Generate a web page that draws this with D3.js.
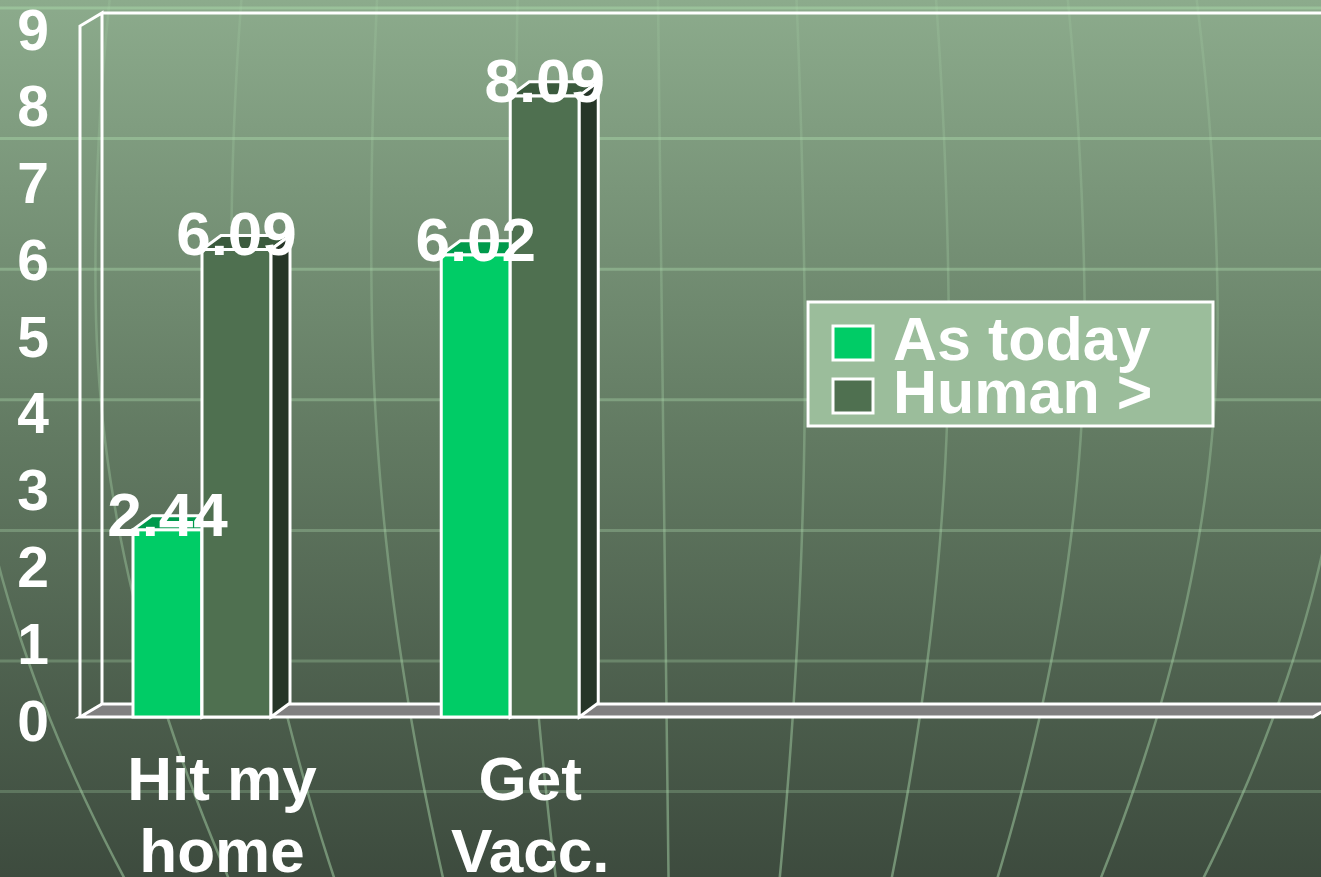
<!DOCTYPE html>
<html lang="en">
<head>
<meta charset="UTF-8">
<title>As today vs Human ></title>
<style>
    body { margin: 0; background: #3e4c3e; overflow: hidden; }
    svg { display: block; }
    text { font-family: "Liberation Sans", Arial, sans-serif; font-weight: bold; fill: #ffffff; }
</style>
</head>
<body>
<svg id="chart"></svg>
<script src="https://d3js.org/d3.v7.min.js"></script>
<script>
    // Data
    const categories = ['Hit my home', 'Get Vacc.'];
    const categoryLines = [['Hit my', 'home'], ['Get', 'Vacc.']];
    const seriesNames = ['As today', 'Human >'];
    const asToday = [2.44, 6.02];
    const humanMore = [6.09, 8.09];
    const yTicks = [0, 1, 2, 3, 4, 5, 6, 7, 8, 9];
    const slotCount = 4; // the category axis has room for four groups

    const width = 1321, height = 877;
    const colors = ['#00cc66', '#4f7050'];
    const topColors = ['#009a4c', '#3b5a3d'];
    const sideColors = ['#007a3c', '#263628'];

    // 3D geometry
    const front = { left: 80, right: 1313, bottom: 717 };
    const wallDx = 22, wallDy = -13;
    const barDx = 19, barDy = -14;

    const svg = d3.select('#chart').attr('width', width).attr('height', height);

    // Background gradient
    const defs = svg.append('defs');
    const grad = defs.append('linearGradient').attr('id', 'bg')
        .attr('x1', 0).attr('y1', 0).attr('x2', 0).attr('y2', 1);
    grad.append('stop').attr('offset', '0%').attr('stop-color', '#8cab8c');
    grad.append('stop').attr('offset', '50%').attr('stop-color', '#627a62');
    grad.append('stop').attr('offset', '100%').attr('stop-color', '#3d4b3e');
    svg.append('rect').attr('width', width).attr('height', height).attr('fill', 'url(#bg)');

    // meridians get stronger towards the bottom
    const merGrad = defs.append('linearGradient').attr('id', 'mer')
        .attr('gradientUnits', 'userSpaceOnUse')
        .attr('x1', 0).attr('y1', 0).attr('x2', 0).attr('y2', height);
    merGrad.append('stop').attr('offset', '0%').attr('stop-color', '#aad7aa').attr('stop-opacity', 0.18);
    merGrad.append('stop').attr('offset', '100%').attr('stop-color', '#aad7aa').attr('stop-opacity', 0.5);

    // Globe grid decoration
    const bgGrid = svg.append('g');
    d3.range(7).forEach(i => {
        const gy = 8 + i * 130.6;
        bgGrid.append('line').attr('x1', 0).attr('x2', width).attr('y1', gy).attr('y2', gy)
            .attr('stroke', '#aad7aa').attr('stroke-opacity', 0.5 - i * 0.04).attr('stroke-width', 3);
    });
    const meridians = [-700, -566, -430, -290, -145, 0, 143, 287, 423, 556, 688];
    const bulge = v => v < 300 ? Math.cos((v - 300) / 1200) : Math.cos((v - 300) / 850);
    const ys = d3.range(0, height + 20, 20);
    const meridian = d3.line().curve(d3.curveBasis);
    meridians.forEach(m => {
        bgGrid.append('path')
            .attr('d', meridian(ys.map(v => [658 + v * 0.012 + m * bulge(v), v])))
            .attr('fill', 'none').attr('stroke', 'url(#mer)').attr('stroke-width', 2.5);
    });

    // Scales
    const x = d3.scaleBand().domain(d3.range(slotCount)).range([front.left, front.right]);
    const y = d3.scaleLinear().domain([0, 9]).range([front.bottom, 26]);
    const groupOffset = 53, barW = 69;

    const stroke = '#ffffff', sw = 3;
    const chart = svg.append('g').attr('stroke-linejoin', 'miter');

    // Floor
    const floorBack = front.bottom + wallDy;
    chart.append('polygon')
        .attr('points', [[front.left, front.bottom], [front.right, front.bottom],
            [front.right + wallDx, floorBack], [front.left + wallDx, floorBack]].join(' '))
        .attr('fill', '#808080').attr('stroke', stroke).attr('stroke-width', sw);

    // Walls (outline only)
    const wallTop = y(9);
    chart.append('path')
        .attr('d', `M${front.left},${front.bottom} L${front.left},${wallTop} L${front.left + wallDx},${wallTop + wallDy}
                    L${front.left + wallDx},${floorBack} M${front.left + wallDx},${wallTop + wallDy} L${width + 40},${wallTop + wallDy}`)
        .attr('fill', 'none').attr('stroke', stroke).attr('stroke-width', sw);

    // Bars
    const series = [asToday, humanMore];
    const bars = [];
    categories.forEach((c, i) => {
        series.forEach((vals, j) => {
            bars.push({ i, j, v: vals[i], x0: x(i) + groupOffset + j * barW });
        });
    });

    const barG = chart.selectAll('.bar').data(bars).enter().append('g').attr('class', 'bar');
    barG.append('rect')
        .attr('x', d => d.x0).attr('y', d => y(d.v))
        .attr('width', barW).attr('height', d => front.bottom - y(d.v))
        .attr('fill', d => colors[d.j]).attr('stroke', stroke).attr('stroke-width', sw);
    barG.append('polygon')
        .attr('points', d => {
            const t = y(d.v);
            return [[d.x0, t], [d.x0 + barW, t], [d.x0 + barW + barDx, t + barDy], [d.x0 + barDx, t + barDy]].join(' ');
        })
        .attr('fill', d => topColors[d.j]).attr('stroke', stroke).attr('stroke-width', sw);
    barG.append('polygon')
        .attr('points', d => {
            const t = y(d.v), r = d.x0 + barW;
            return [[r, t], [r + barDx, t + barDy], [r + barDx, front.bottom + barDy], [r, front.bottom]].join(' ');
        })
        .attr('fill', d => sideColors[d.j]).attr('stroke', stroke).attr('stroke-width', sw);

    // Value labels
    svg.selectAll('.value').data(bars).enter().append('text')
        .attr('class', 'value')
        .attr('x', d => d.x0 + barW / 2)
        .attr('y', d => y(d.v) + 6)
        .attr('text-anchor', 'middle')
        .style('font-size', '62px')
        .text(d => d.v.toFixed(2));

    // Y axis labels
    const yAxis = svg.append('g').attr('transform', 'translate(49,23)')
        .call(d3.axisLeft(y).tickValues(yTicks).tickSize(0).tickPadding(0));
    yAxis.select('.domain').remove();
    yAxis.selectAll('text')
        .attr('dy', 0)
        .style('font-size', '57px')
        .style('font-family', '"Liberation Sans", Arial, sans-serif')
        .style('font-weight', 'bold')
        .attr('fill', '#ffffff');

    // Category labels
    categories.forEach((c, i) => {
        const cx = x(i) + groupOffset + barW + 20;
        const t = svg.append('text').attr('text-anchor', 'middle').style('font-size', '62px');
        categoryLines[i].forEach((line, k) => {
            t.append('tspan').attr('x', cx).attr('y', 800 + k * 72).text(line);
        });
    });

    // Legend
    const legend = svg.append('g').attr('transform', 'translate(808,302)');
    legend.append('rect').attr('width', 405).attr('height', 124)
        .attr('fill', '#9bbd9b').attr('stroke', stroke).attr('stroke-width', sw);
    seriesNames.forEach((name, j) => {
        legend.append('rect').attr('x', 25).attr('y', 24 + j * 53).attr('width', 40).attr('height', 34)
            .attr('fill', colors[j]).attr('stroke', stroke).attr('stroke-width', sw);
        legend.append('text').attr('x', 85).attr('y', 58 + j * 53)
            .style('font-size', '61px').text(name);
    });
</script>
</body>
</html>
